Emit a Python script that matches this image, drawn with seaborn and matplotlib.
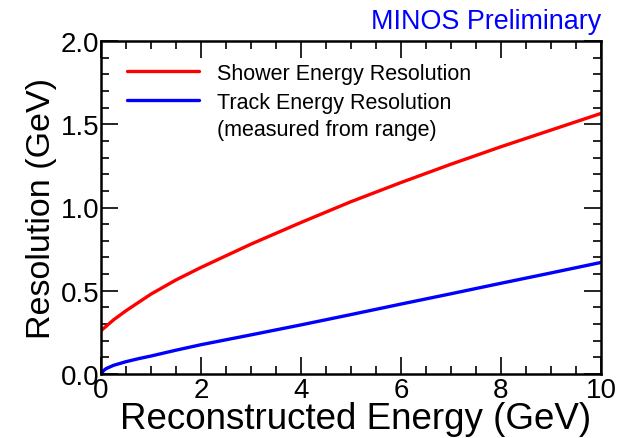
import numpy as np
import pandas as pd
import matplotlib
matplotlib.use("Agg")
import matplotlib.pyplot as plt
from matplotlib.ticker import MultipleLocator, FuncFormatter, FormatStrFormatter
from matplotlib.lines import Line2D
import seaborn as sns

shower_energy = [0.0, 0.25, 0.5, 0.75, 1.0, 1.5, 2.0, 2.5, 3.0, 4.0, 5.0, 6.0, 7.0, 8.0, 9.0, 10.0]
shower_res = [0.26, 0.325, 0.38, 0.43, 0.48, 0.565, 0.64, 0.71, 0.78, 0.91, 1.035, 1.15, 1.26, 1.365, 1.465, 1.565]
track_energy = [0.0, 0.05, 0.1, 0.25, 0.5, 0.75, 1.0, 1.5, 2.0, 3.0, 4.0, 5.0, 6.0, 7.0, 8.0, 9.0, 10.0]
track_res = [0.0, 0.02, 0.032, 0.052, 0.074, 0.092, 0.108, 0.143, 0.176, 0.235, 0.295, 0.357, 0.42, 0.482, 0.545, 0.607, 0.67]
series_names = ["Shower Energy Resolution", "Track Energy Resolution"]
extra_label = "(measured from range)"

df = pd.DataFrame({
    "E": shower_energy + track_energy,
    "res": shower_res + track_res,
    "series": [series_names[0]] * len(shower_energy) + [series_names[1]] * len(track_energy),
})

sns.set_style("ticks")
plt.rcParams["font.family"] = ["Liberation Sans", "DejaVu Sans"]
plt.rcParams["text.color"] = "black"
plt.rcParams["axes.labelcolor"] = "black"
plt.rcParams["xtick.color"] = "black"
plt.rcParams["ytick.color"] = "black"

W, H = 626, 439
fig = plt.figure(figsize=(W / 100, H / 100), dpi=100)
ax = fig.add_axes([101 / W, 1 - 375 / H, 500 / W, 333 / H])

sns.lineplot(data=df, x="E", y="res", hue="series", palette=["#ff0000", "#0000ff"],
             linewidth=2.4, ax=ax, legend=False, sort=True)

ax.set_xlim(0, 10)
ax.set_ylim(0, 2.0)
ax.xaxis.set_major_locator(MultipleLocator(2))
ax.xaxis.set_minor_locator(MultipleLocator(0.5))
ax.yaxis.set_major_locator(MultipleLocator(0.5))
ax.yaxis.set_minor_locator(MultipleLocator(0.1))
ax.xaxis.set_major_formatter(FuncFormatter(lambda v, p: f"{v:g}"))
ax.yaxis.set_major_formatter(FormatStrFormatter("%.1f"))
ax.tick_params(which="both", direction="in", top=True, right=True, width=1.2,
               colors="black", labelcolor="black", labelsize=20)
ax.tick_params(which="major", length=12)
ax.tick_params(which="minor", length=6)
ax.tick_params(axis="x", pad=2)
ax.tick_params(axis="y", pad=1)
for s in ax.spines.values():
    s.set_linewidth(1.8)
    s.set_color("black")

ax.set_xlabel("Reconstructed Energy (GeV)", fontsize=26.5, color="black")
ax.xaxis.label.set_verticalalignment("baseline")
ax.xaxis.set_label_coords(0.51, -(429 - 375) / 333)
ax.set_ylabel("Resolution (GeV)", fontsize=24.5, labelpad=3, color="black")

handles = [Line2D([], [], color="#ff0000", lw=2.4), Line2D([], [], color="#0000ff", lw=2.4)]
leg = ax.legend(handles, series_names, loc="upper left",
                bbox_to_anchor=(127 / W, 1 - 64 / H), bbox_transform=fig.transFigure,
                frameon=False, fontsize=15.5, borderpad=0, borderaxespad=0,
                handlelength=3.35, handletextpad=0.85, labelspacing=0.36,
                labelcolor="black")

fig.canvas.draw()
renderer = fig.canvas.get_renderer()
t2 = leg.get_texts()[1]
bb = t2.get_window_extent(renderer)
fig.text(bb.x0 / W, (bb.y0 - 27 + bb.height / 2) / H, extra_label, fontsize=15.5,
         ha="left", va="center", color="black")

fig.text(601 / W, 1 - 22 / H, "MINOS Preliminary", color="#0000ff", fontsize=19.4,
         ha="right", va="center")

fig.savefig("out.png", dpi=100)
